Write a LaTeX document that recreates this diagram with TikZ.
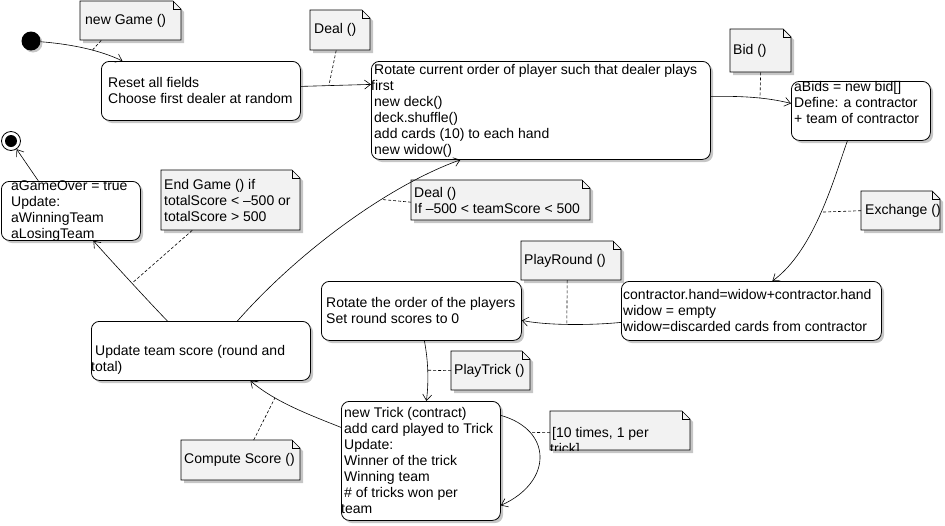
\documentclass[tikz,border=0pt]{standalone}
\usepackage{fontspec}
\setmainfont{Liberation Sans}
\usetikzlibrary{arrows.meta,backgrounds}
\definecolor{notefill}{HTML}{F2F2F2}
\definecolor{shadowc}{HTML}{C6C6C6}
\newcommand\mkstate[5]{%
  \node[statebox, minimum width=#4-#2, minimum height=#5-#3] (#1) at (#2,#3) {};
  \begin{pgfonlayer}{background}
    \fill[shadowc, rounded corners=8pt] (#2+3,#3+3) rectangle (#4+3,#5+3);
  \end{pgfonlayer}}
\newcommand\mknote[5]{%
  \node[notebox, minimum width=#4-#2, minimum height=#5-#3] (#1) at (#2,#3) {};
  \begin{pgfonlayer}{background}
    \fill[shadowc] (#2+3,#3+3) -- (#4-5,#3+3) -- (#4+3,#3+11) -- (#4+3,#5+3) -- (#2+3,#5+3) -- cycle;
    \filldraw[fill=notefill, line width=0.7pt] (#2,#3) -- (#4-8,#3) -- (#4,#3+8) -- (#4,#5) -- (#2,#5) -- cycle;
    \draw[line width=0.5pt] (#4-8,#3) -- (#4-8,#3+8) -- (#4,#3+8);
  \end{pgfonlayer}}
\begin{document}
\begin{tikzpicture}[x=1pt,y=-1pt,
  statebox/.style={draw, line width=0.8pt, rounded corners=8pt, fill=white, inner sep=0pt, anchor=north west},
  notebox/.style={inner sep=0pt, anchor=north west},
  txt/.style={font=\fontsize{14}{16}\selectfont, align=left, inner sep=0pt, anchor=west},
  flow/.style={line width=0.6pt, -{Straight Barb[length=6pt,width=9pt]}},
  link/.style={line width=0.6pt, dash pattern=on 3pt off 2pt}]
\useasboundingbox (0,0) rectangle (945,525);

% initial and final
\begin{pgfonlayer}{background}
  \fill[shadowc] (33,43) circle (9.5pt);
\end{pgfonlayer}
\node[circle, fill=black, minimum size=19pt, inner sep=0pt] (init) at (31,41) {};
\node[circle, draw, line width=0.8pt, fill=white, minimum size=19pt, inner sep=0pt] (final) at (11,141) {};
\node[circle, fill=black, minimum size=12pt, inner sep=0pt] (finalDot) at (final) {};

% states
\mkstate{reset}{101}{61}{300}{120}
\mkstate{rotate}{371}{61}{710}{159}
\mkstate{abids}{791}{81}{930}{140}
\mkstate{contr}{621}{281}{881}{340}
\mkstate{rotplayers}{321}{281}{521}{340}
\mkstate{update}{91}{321}{310}{380}
\mkstate{gameover}{1}{181}{140}{240}
\mkstate{trick}{341}{401}{500}{520}

% notes
\mknote{ngNote}{80}{1}{181}{40}
\mknote{dealNote}{310}{10}{370}{50}
\mknote{bidNote}{730}{29}{791}{72}
\mknote{exNote}{861}{191}{940}{230}
\mknote{prNote}{521}{241}{621}{280}
\mknote{dealTwoNote}{411}{180}{590}{220}
\mknote{endNote}{161}{170}{300}{230}
\mknote{ptNote}{451}{351}{530}{390}
\mknote{tenNote}{550}{411}{690}{450}
\mknote{csNote}{181}{440}{300}{480}

% state texts
\node[txt] (resetT) at ([xshift=7pt]reset.west) {Reset all fields\\Choose first dealer at random};
\node[txt] (rotateT) at ([xshift=3pt]rotate.west) {Rotate current order of player such that dealer plays\\\hspace*{-3pt}first\\new deck()\\deck.shuffle()\\add cards (10) to each hand\\new widow()};
\node[txt] (abidsT) at ([xshift=3pt]abids.west) {aBids = new bid[]\\Define: a contractor\\+ team of contractor\\\mbox{}};
\begin{scope}
  \clip (contr.south west) rectangle (contr.north east);
  \node[txt] (contrT) at ([xshift=2pt]contr.west) {contractor.hand=widow+contractor.hand\\widow = empty\\widow=discarded cards from contractor};
\end{scope}
\node[txt] (rotplayersT) at ([xshift=5pt]rotplayers.west) {Rotate the order of the players\\Set round scores to 0};
\node[txt] (updateT) at ([xshift=4pt]update.west) {\strut\\Update team score (round and\\\hspace*{-4pt}total)};
\node[txt] (gameoverT) at ([xshift=10pt]gameover.west) {aGameOver = true\\Update:\\aWinningTeam\\aLosingTeam};
\node[txt] (trickT) at ([xshift=3pt]trick.west) {new Trick (contract)\\add card played to Trick\\Update:\\Winner of the trick\\Winning team\\\# of tricks won per\\\hspace*{-3pt}team};

% note texts
\node[txt] (ngT) at ([xshift=5pt]ngNote.west) {new Game ()};
\node[txt] (dealT) at ([xshift=4pt]dealNote.west) {Deal ()};
\node[txt] (bidT) at ([xshift=3pt]bidNote.west) {Bid ()};
\node[txt] (exT) at ([xshift=4pt]exNote.west) {Exchange ()};
\node[txt] (prT) at ([xshift=3pt]prNote.west) {PlayRound ()};
\node[txt] (dealTwoT) at ([xshift=3pt]dealTwoNote.west) {Deal ()\\If –500 < teamScore < 500};
\node[txt] (endT) at ([xshift=3pt]endNote.west) {End Game () if\\totalScore < –500 or\\totalScore > 500};
\node[txt] (ptT) at ([xshift=3pt]ptNote.west) {PlayTrick ()};
\begin{scope}
  \clip (tenNote.south west) rectangle ([xshift=-8pt]tenNote.north east);
  \node[txt] (tenT) at ([xshift=2pt,yshift=-3pt]tenNote.west) {\strut\\{[}10 times, 1 per\\\hspace*{-2pt}trick{]}};
\end{scope}
\node[txt] (csT) at ([xshift=3pt]csNote.west) {Compute Score ()};

% transitions
\draw[flow] (init) .. controls (70,44) and (100,50) .. coordinate[pos=0.6] (a1) ([xshift=-78.5pt]reset.north);
\draw[link] ([xshift=-29.5pt]ngNote.south) -- (a1);

\draw[flow] ([yshift=4.5pt]reset.east) -- coordinate[pos=0.4] (a2) ([yshift=26pt]rotate.west);
\draw[link] ([xshift=-4pt]dealNote.south) -- (a2);

\draw[flow] ([yshift=14pt]rotate.east) .. controls (740,96) and (765,97) .. coordinate[pos=0.6] (a3) ([yshift=7.5pt]abids.west);
\draw[link] (bidNote.south) -- (a3);

\draw[flow] ([xshift=-13.5pt]abids.south) .. controls (835,175) and (815,250) .. coordinate[pos=0.5] (a4) ([xshift=21pt]contr.north);
\draw[link] (exNote.west) -- (a4);

\draw[flow] ([yshift=-11.5pt]contr.west) .. controls (595,325) and (550,326) .. coordinate[pos=0.55] (a5) ([yshift=-9.5pt]rotplayers.east);
\draw[link] ([xshift=-4pt]prNote.south) -- (a5);

\draw[flow] ([xshift=3pt]rotplayers.south) .. controls (428,360) and (429,380) .. coordinate[pos=0.5] (a6) ([xshift=5.5pt]trick.north);
\draw[link] (ptNote.west) -- (a6);

\draw[flow] ([yshift=45.5pt]trick.east) .. controls (553,430) and (553,482) .. coordinate[pos=0.25] (a7) ([yshift=-44.5pt]trick.east);
\draw[link] ([yshift=-2pt]tenNote.west) -- (a7);

\draw[flow] ([yshift=33.5pt]trick.west) .. controls (310,415) and (275,402) .. coordinate[pos=0.7] (a8) ([xshift=49.5pt]update.south);
\draw[link] ([xshift=13pt]csNote.north) -- (a8);

\draw[flow] ([xshift=36.5pt]update.north) .. controls (300,250) and (390,185) .. coordinate[pos=0.65] (a9) ([xshift=-80.5pt]rotate.south);
\draw[link] ([yshift=-2pt]dealTwoNote.west) -- (a9);

\draw[flow] ([xshift=-33.5pt]update.north) .. controls (150,303) and (115,265) .. coordinate[pos=0.5] (a10) ([xshift=22.5pt]gameover.south);
\draw[link] ([xshift=-38.5pt]endNote.south) -- (a10);

\draw[flow] ([xshift=-32.5pt]gameover.north) -- (final);
\end{tikzpicture}
\end{document}
